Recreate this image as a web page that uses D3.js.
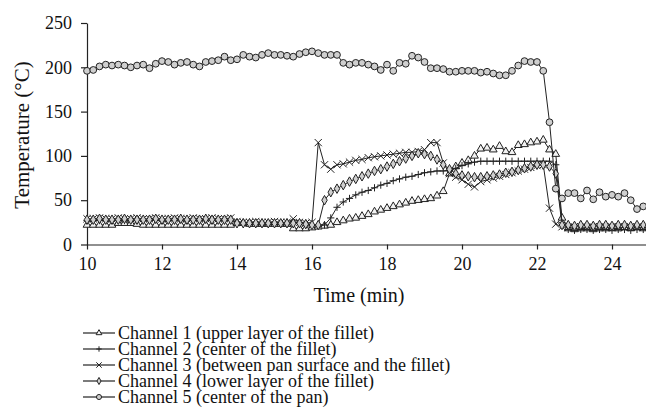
<!DOCTYPE html>
<html lang="en">
<head>
<meta charset="utf-8">
<title>Temperature channels</title>
<script src="https://d3js.org/d3.v7.min.js"></script>
<style>
body { margin: 0; background: #fff; }
text { font-family: "Liberation Serif", "Times New Roman", serif; fill: #111; }
.axis path, .axis line { stroke: #222; stroke-width: 1.2; }
.axis text { font-size: 18px; }
</style>
</head>
<body>
<div id="my_dataviz"></div>
<script>

// readings are taken every 10 s from 10 to 25 min
var sampleStep = 1 / 6;
var nSamples = 91;
var times = d3.range(nSamples).map(function(i) { return 10 + i * sampleStep; });

var xTicks = [10, 12, 14, 16, 18, 20, 22, 24];
var yTicks = [0, 50, 100, 150, 200, 250];

var channelNames = [
  "Channel 1 (upper layer of the fillet)",
  "Channel 2 (center of the fillet)",
  "Channel 3 (between pan surface and the fillet)",
  "Channel 4 (lower layer of the fillet)",
  "Channel 5 (center of the pan)"
];

var channel1 = [22,22,22,22,22,24,24,24,23,22, 22,22,22,22,22,22,22,22,22,22,
  22,22,22,22,24,24,23,23,23,23, 23,23,23,18,18,18,19,20,21,22,
  25,27,29,30,32,34,37,39,41,43, 45,47,49,50,51,52,55,60,80,88,
  92,95,100,108,109,107,111,105,104,112, 113,115,116,118,107,102,30,18,17,18,
  18,17,18,18,18,18,19,18,19,18,19];

var channel2 = [27,28,27,28,27,28,27,28,27,28, 27,28,27,28,27,28,27,28,27,28,
  27,28,27,28,25,24,25,24,25,24, 25,24,25,24,25,24,22,22,22,30,
  42,48,52,56,59,61,64,67,69,72, 74,76,77,79,81,82,83,83,84,86,
  89,91,93,94,94,94,94,94,94,94, 94,94,94,94,94,90,25,17,16,17,
  17,16,17,17,16,17,17,16,17,17,16];

var channel3 = [29,29,30,29,29,30,29,29,30,29, 29,30,29,29,30,29,29,30,29,29,
  30,29,29,30,26,25,25,26,25,25, 26,25,25,29,25,24,25,115,90,85,
  90,91,93,95,96,98,99,100,101,102, 103,104,104,105,107,115,115,92,80,76,
  73,68,65,71,73,75,77,79,81,83, 85,87,89,90,41,23,20,19,20,20,
  19,20,20,19,20,20,19,20,20,19,20];

var channel4 = [28,28,29,28,28,28,29,28,28,28, 28,29,28,28,28,29,28,28,28,29,
  28,28,28,28,24,24,24,24,24,24, 24,24,24,24,24,23,22,22,50,59,
  63,67,71,74,77,80,83,85,88,91, 94,97,100,103,102,100,96,90,85,80,
  78,77,76,76,77,78,79,81,82,84, 86,88,90,90,88,80,22,22,21,22,
  22,21,22,22,21,22,22,21,22,22,21];

var channel5 = [196,197,201,203,202,203,202,200,202,203, 199,204,207,206,203,205,206,203,201,206,
  207,208,212,208,209,214,212,211,214,216, 214,214,213,212,215,217,218,216,214,214,
  214,205,203,205,205,203,201,197,203,196, 205,204,213,211,206,199,199,198,195,195,
  196,196,196,194,195,193,191,191,196,202, 207,206,206,196,138,63,52,58,58,52,
  61,51,59,54,56,54,58,50,40,43,42];

var series = [channel1, channel2, channel3, channel4, channel5];
var markers = ["triangle", "plus", "times", "diamond", "circle"];

var width = 646, height = 409;

var svg = d3.select("#my_dataviz")
  .append("svg")
  .attr("width", width)
  .attr("height", height);

svg.append("rect").attr("width", width).attr("height", height).attr("fill", "#fff");

var x = d3.scaleLinear().domain([10, 25]).range([87, 649.5]);
var y = d3.scaleLinear().domain([0, 250]).range([244.5, 23]);

// marker shapes, s = scale factor (1 in the plot, smaller in the legend)
function markerPath(kind, s) {
  var h = 3.6 * s;
  if (kind == "plus") return "M" + (-h) + ",0H" + h + "M0," + (-h) + "V" + h;
  if (kind == "times") return "M" + (-h) + "," + (-h) + "L" + h + "," + h + "M" + (-h) + "," + h + "L" + h + "," + (-h);
  if (kind == "triangle") return d3.symbol().type(d3.symbolTriangle).size(26 * s * s)();
  if (kind == "diamond") return d3.symbol().type(d3.symbolDiamond).size(26 * s * s)();
  return d3.symbol().type(d3.symbolCircle).size(36 * s * s)();
}
function markerFill(kind) {
  if (kind == "plus" || kind == "times") return "none";
  if (kind == "triangle") return "#f2f2f2";
  return "#cfcfcf";
}

// axes
svg.append("g")
  .attr("class", "axis")
  .attr("transform", "translate(0," + y(0) + ")")
  .call(d3.axisBottom(x).tickValues(xTicks).tickFormat(d3.format("d")).tickSize(5).tickSizeOuter(0).tickPadding(8));

svg.append("g")
  .attr("class", "axis")
  .attr("transform", "translate(" + x(10) + ",0)")
  .call(d3.axisLeft(y).tickValues(yTicks).tickSize(6).tickSizeOuter(0).tickPadding(9));

// axis titles
svg.append("text")
  .attr("transform", "translate(29,135) rotate(-90)")
  .attr("text-anchor", "middle")
  .style("font-size", "21px")
  .text("Temperature (\u00B0C)");

svg.append("text")
  .attr("x", 359)
  .attr("y", 302)
  .attr("text-anchor", "middle")
  .style("font-size", "20px")
  .text("Time (min)");

// lines and markers
var line = d3.line()
  .x(function(d, i) { return x(times[i]); })
  .y(function(d) { return y(d); });

var plot = svg.append("g");

series.forEach(function(values, k) {
  plot.append("path")
    .attr("d", line(values))
    .attr("fill", "none")
    .attr("stroke", "#222")
    .attr("stroke-width", 1);

  plot.selectAll(".m" + k)
    .data(values)
    .enter()
    .append("path")
      .attr("class", "m" + k)
      .attr("transform", function(d, i) { return "translate(" + x(times[i]) + "," + y(d) + ")"; })
      .attr("d", markerPath(markers[k], 1))
      .attr("fill", markerFill(markers[k]))
      .attr("stroke", "#222")
      .attr("stroke-width", 1);
});

// legend
var legend = svg.selectAll(".legend")
  .data(channelNames)
  .enter()
  .append("g")
    .attr("class", "legend")
    .attr("transform", function(d, i) { return "translate(0," + (333 + i * 16) + ")"; });

legend.append("line")
  .attr("x1", 83).attr("x2", 115)
  .attr("stroke", "#222").attr("stroke-width", 1.2);

legend.append("path")
  .attr("transform", "translate(99,0)")
  .attr("d", function(d, i) { return markerPath(markers[i], 0.75); })
  .attr("fill", function(d, i) { return markerFill(markers[i]); })
  .attr("stroke", "#222")
  .attr("stroke-width", 1);

legend.append("text")
  .attr("x", 118)
  .attr("y", 6)
  .style("font-size", "18px")
  .text(function(d) { return d; });

</script>
</body>
</html>
